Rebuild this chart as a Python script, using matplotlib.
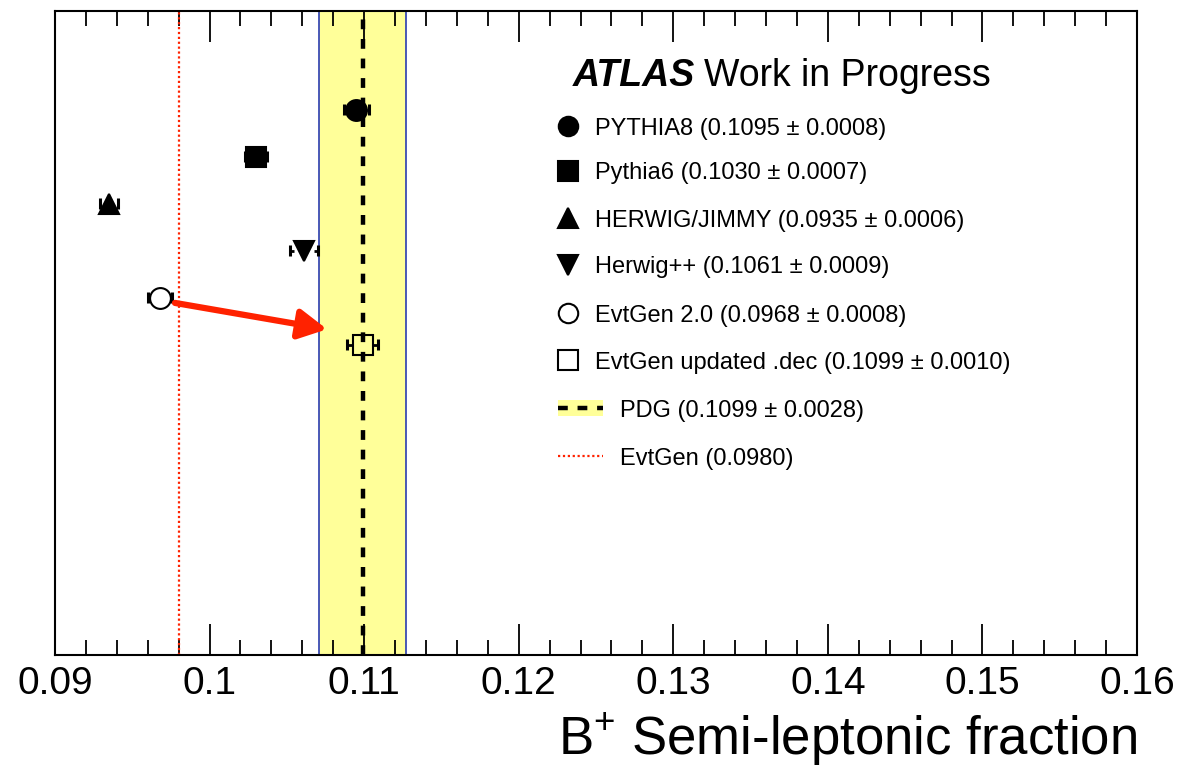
#!/usr/bin/env python3
# -*- coding: utf-8 -*-
"""
B+ semi-leptonic fraction: generator comparison (ATLAS style)
"""

import matplotlib
matplotlib.use('Agg')
import matplotlib.pyplot as plt
from matplotlib.ticker import MultipleLocator

plt.rcParams['font.family'] = ['Liberation Sans', 'DejaVu Sans']
plt.rcParams['mathtext.fontset'] = 'custom'
plt.rcParams['mathtext.rm'] = 'Liberation Sans'

# data
generators = ['PYTHIA8', 'Pythia6', 'HERWIG/JIMMY', 'Herwig++',
              'EvtGen 2.0', 'EvtGen updated .dec']
values = [0.1095, 0.1030, 0.0935, 0.1061, 0.0968, 0.1099]
errors = [0.0008, 0.0007, 0.0006, 0.0009, 0.0008, 0.0010]
rows = [2, 3, 4, 5, 6, 7]
pdg_value = 0.1099
pdg_error = 0.0028
evtgen_old = 0.0980

# styles
markers = ['o', 's', '^', 'v', 'o', 's']
msizes = [15, 14, 14, 14, 15, 14]
filled = [True, True, True, True, False, False]
yellow = '#ffff99'
blue = '#2a3cb0'
red = '#ff2200'

DPI = 100
fig = plt.figure(figsize=(11.82, 7.76), dpi=DPI)
ax = fig.add_axes([55 / 1182, 121 / 776, 1082 / 1182, 644 / 776])

xmin, xmax = 0.09, 0.16
ax.set_xlim(xmin, xmax)
ax.set_ylim(13.6, -0.1)
px_per_unit = 1082 / (xmax - xmin)

# PDG band
ax.axvspan(pdg_value - pdg_error, pdg_value + pdg_error,
           facecolor=yellow, edgecolor='none', zorder=0)
for xb in (pdg_value - pdg_error, pdg_value + pdg_error):
    ax.axvline(xb, color=blue, linewidth=1.2, zorder=1)
ax.axvline(pdg_value, color='black', linewidth=3.2,
           linestyle=(0, (2.2, 2.2)), zorder=2)

# old EvtGen value
ax.axvline(evtgen_old, color=red, linewidth=1.6,
           linestyle=(0, (1, 1.2)), zorder=2)

# points; error bars are drawn only outside the marker (ROOT style)
cap_h = 0.12
for v, e, r, m, ms, f in zip(values, errors, rows, markers, msizes, filled):
    half = ms / 2 * DPI / 72 / px_per_unit
    for lo, hi in ((v - e, v - half), (v + half, v + e)):
        if hi > lo:
            ax.plot([lo, hi], [r, r], color='black', linewidth=2, zorder=3,
                    solid_capstyle='butt')
    for xe in (v - e, v + e):
        ax.plot([xe, xe], [r - cap_h, r + cap_h], color='black',
                linewidth=2.2, zorder=3, solid_capstyle='butt')
    ax.plot(v, r, marker=m, markersize=ms, linestyle='none',
            markerfacecolor='black' if f else 'none',
            markeredgecolor='black', markeredgewidth=1.5, zorder=4)

# arrow from EvtGen 2.0 to updated .dec
ax.annotate('', xy=(0.10760, 6.67), xytext=(0.09776, 6.11),
            arrowprops=dict(arrowstyle='-|>,head_length=1.7,head_width=0.9',
                            color=red, linewidth=4.5,
                            shrinkA=0, shrinkB=0), zorder=5)

# axes style
ax.set_xticks([0.09, 0.1, 0.11, 0.12, 0.13, 0.14, 0.15, 0.16])
ax.set_xticklabels(['0.09', '0.1', '0.11', '0.12', '0.13', '0.14', '0.15', '0.16'])
ax.xaxis.set_minor_locator(MultipleLocator(0.002))
ax.tick_params(axis='x', which='both', direction='in', top=True,
               labelsize=28, width=1.3, pad=8)
ax.tick_params(axis='x', which='major', length=22)
ax.tick_params(axis='x', which='minor', length=11)
ax.tick_params(axis='y', which='both', left=False, labelleft=False)
for sp in ax.spines.values():
    sp.set_linewidth(1.5)

ax.set_xlabel('B$^{+}$ Semi-leptonic fraction', fontsize=38,
              loc='right', labelpad=6)

# title / legend (manual, ROOT style)
def af(px, py):
    return (px - 55) / 1082, 1 - (py - 11) / 644

tx, ty = af(573, 72)
ax.text(tx, ty, 'ATLAS', transform=ax.transAxes, fontsize=27,
        fontweight='bold', fontstyle='italic', va='center_baseline', ha='left')
ax.text(af(704, 72)[0], ty, 'Work in Progress', transform=ax.transAxes,
        fontsize=27, va='center_baseline', ha='left')

leg_fs = 17
leg_y = [126, 171, 218, 265, 313, 360]
for name, v, e, m, f, py in zip(generators, values, errors, markers, filled, leg_y):
    mx, my = af(568, py)
    ax.plot(mx, my, marker=m, markersize=14, linestyle='none',
            markerfacecolor='black' if f else 'none',
            markeredgecolor='black', markeredgewidth=1.5,
            transform=ax.transAxes, clip_on=False)
    lx, ly = af(595, py)
    ax.text(lx, ly, f'{name} ({v:.4f} ± {e:.4f})', transform=ax.transAxes,
            fontsize=leg_fs, va='center_baseline', ha='left')

# PDG legend entry
x0, y0 = af(558, 408)
x1, _ = af(603, 408)
_, yb0 = af(558, 400)
_, yb1 = af(558, 416)
ax.fill_between([x0, x1], [yb1, yb1], [yb0, yb0], color=yellow,
                transform=ax.transAxes, linewidth=0)
ax.plot([x0, x1], [y0, y0], color='black', linewidth=3.2,
        linestyle=(0, (2.2, 2.2)), transform=ax.transAxes)
ax.text(af(620, 408)[0], y0, f'PDG ({pdg_value:.4f} ± {pdg_error:.4f})',
        transform=ax.transAxes, fontsize=leg_fs, va='center_baseline', ha='left')

# EvtGen legend entry
_, y2 = af(558, 456)
ax.plot([x0, x1], [y2, y2], color=red, linewidth=1.6,
        linestyle=(0, (1, 1.2)), transform=ax.transAxes)
ax.text(af(620, 456)[0], y2, f'EvtGen ({evtgen_old:.4f})',
        transform=ax.transAxes, fontsize=leg_fs, va='center_baseline', ha='left')

fig.savefig('out.png', dpi=DPI)
